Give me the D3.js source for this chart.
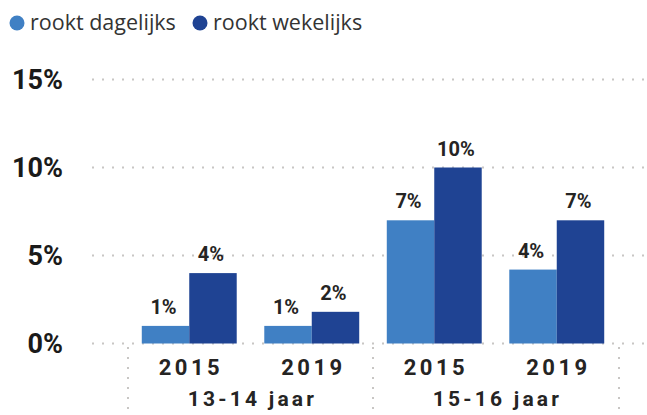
<!DOCTYPE html>
<html><head><meta charset="utf-8">
<script src="https://cdn.jsdelivr.net/npm/d3@7"></script>
<style>
body{margin:0;background:#fff;}
svg{display:block;}
</style></head>
<body>
<svg id="chart" width="647" height="415"></svg>
<script>
const groups = ["13-14 jaar", "15-16 jaar"];
const years = ["2015", "2019"];
const seriesNames = ["rookt dagelijks", "rookt wekelijks"];
const daily = [1.0, 1.0, 7.0, 4.2];
const weekly = [4.0, 1.8, 10.0, 7.0];
const yTicks = [0, 5, 10, 15];
const colors = ["#4080c4", "#1f4393"];

const svg = d3.select("#chart");
const plotLeft = 128, plotRight = 618, y0 = 343.5, yTop = 79.5;
const textColor = "#252423";

const cats = [];
groups.forEach((g, gi) => years.forEach((yr, yi) => cats.push({g, yr, i: gi*2+yi})));
const data = cats.map((c, i) => ({...c, vals: [daily[i], weekly[i]]}));

const y = d3.scaleLinear().domain([0, 15]).range([y0, yTop]);
const x = d3.scaleBand().domain(data.map(d => d.i)).range([plotLeft, plotRight]).paddingInner(0.225).paddingOuter(0.1125);
const xs = d3.scaleBand().domain([0, 1]).range([0, x.bandwidth()]);
const xg = d3.scaleBand().domain(groups).range([plotLeft, plotRight]);

// gridlines
svg.append("g").selectAll("line").data(yTicks).join("line")
  .attr("x1", 92).attr("x2", 645)
  .attr("y1", d => y(d)).attr("y2", d => y(d))
  .attr("stroke", "#c8c6c4").attr("stroke-width", 2)
  .attr("stroke-dasharray", "2,8");

// y axis labels
const yAxis = d3.axisLeft(y).tickValues(yTicks).tickFormat(d => d + "%").tickSize(0).tickPadding(0);
const ya = svg.append("g").attr("transform", "translate(63,0)").call(yAxis);
ya.select(".domain").remove();
ya.selectAll("text").attr("font-family", "Roboto, sans-serif").attr("font-weight", 700)
  .attr("font-size", 27).attr("fill", "#1a1a1a").attr("dy", "0.35em");

// bars
const bg = svg.append("g").selectAll("g").data(data).join("g")
  .attr("transform", d => `translate(${x(d.i)},0)`);
bg.selectAll("rect").data(d => d.vals.map((v, k) => ({v, k}))).join("rect")
  .attr("x", d => xs(d.k)).attr("width", xs.bandwidth())
  .attr("y", d => y(d.v)).attr("height", d => y0 - y(d.v))
  .attr("fill", d => colors[d.k]);
bg.selectAll("text").data(d => d.vals.map((v, k) => ({v, k}))).join("text")
  .attr("x", d => xs(d.k) + xs.bandwidth()/2 - 2)
  .attr("y", d => y(d.v) - 12)
  .attr("text-anchor", "middle")
  .attr("font-family", "Roboto, sans-serif").attr("font-weight", 700)
  .attr("font-size", 20).attr("fill", textColor)
  .text(d => d3.format(".0f")(d.v) + "%");

// x axis: years
const xAxis = d3.axisBottom(x).tickFormat(i => cats[i].yr).tickSize(0).tickPadding(0);
const xa = svg.append("g").attr("transform", `translate(0,${y0})`).call(xAxis);
xa.select(".domain").remove();
xa.selectAll("text").attr("font-family", "Roboto, sans-serif").attr("font-weight", 700)
  .attr("font-size", 22).attr("fill", textColor).attr("letter-spacing", 3.5)
  .attr("dy", 0).attr("y", 31).attr("dx", 1.75);

// group labels
svg.append("g").selectAll("text").data(groups).join("text")
  .attr("x", d => xg(d) + xg.bandwidth()/2 + 2)
  .attr("y", 406)
  .attr("text-anchor", "middle")
  .attr("font-family", "Roboto, sans-serif").attr("font-weight", 700)
  .attr("font-size", 21).attr("fill", textColor).attr("letter-spacing", 3.2)
  .text(d => d);

// group separators
const seps = [plotLeft, xg(groups[1]), plotRight + 1];
svg.append("g").selectAll("line").data(seps).join("line")
  .attr("x1", d => d).attr("x2", d => d)
  .attr("y1", 347).attr("y2", 415)
  .attr("stroke", "#c8c6c4").attr("stroke-width", 2)
  .attr("stroke-dasharray", "2,8");

// legend
const leg = svg.append("g");
const legX = [17, 200];
seriesNames.forEach((s, k) => {
  leg.append("circle").attr("cx", legX[k]).attr("cy", 23).attr("r", 7.5).attr("fill", colors[k]);
  leg.append("text").attr("x", legX[k] + 13).attr("y", 30)
    .attr("font-family", "'Open Sans', sans-serif").attr("font-size", 21.5)
    .attr("fill", "#333").text(s);
});
</script>
</body></html>
